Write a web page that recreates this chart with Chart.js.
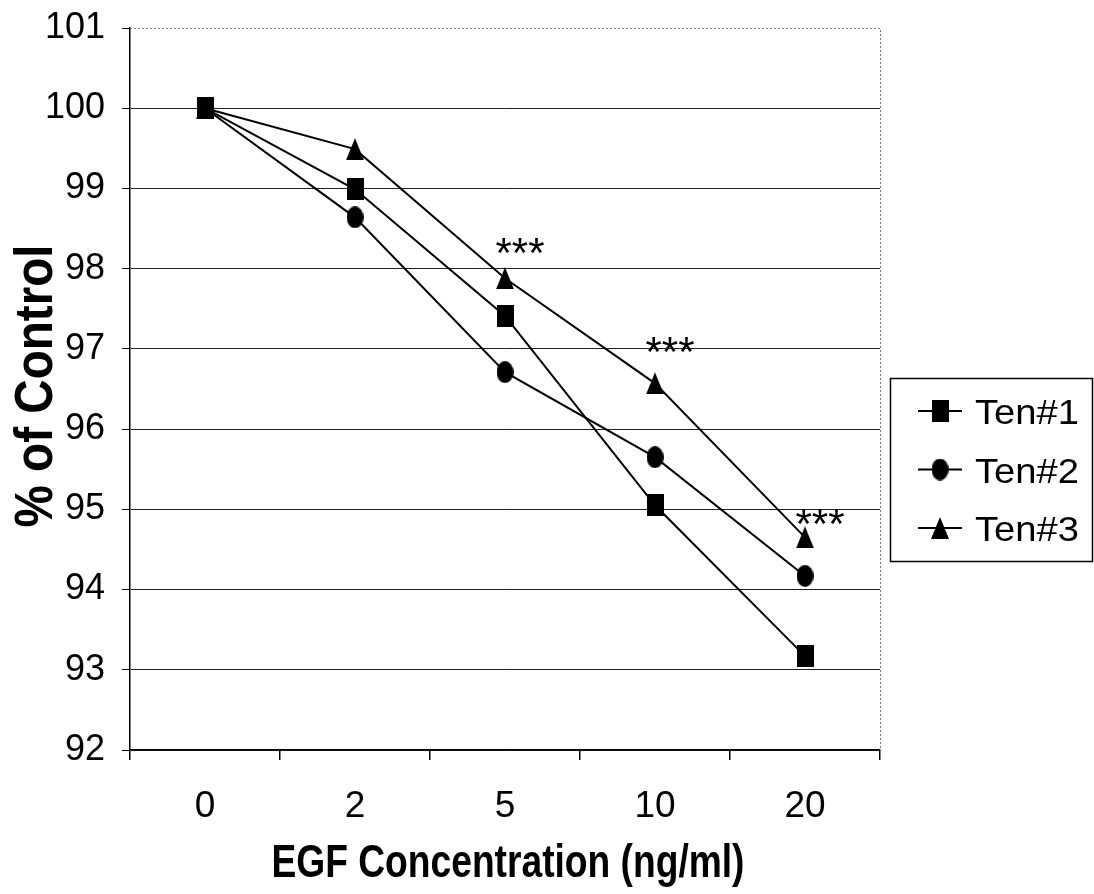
<!DOCTYPE html>
<html><head><meta charset="utf-8">
<script src="https://cdn.jsdelivr.net/npm/chart.js@4.4.1/dist/chart.umd.min.js"></script>
<style>html,body{margin:0;padding:0;background:#fff;}#wrap{width:1094px;height:894px;}</style>
</head><body><div id="wrap"><canvas id="c" width="1094" height="894"></canvas></div>
<script>
// ---- data ----
const categories = ['0', '2', '5', '10', '20'];
const seriesNames = ['Ten#1', 'Ten#2', 'Ten#3'];
const ten1 = [100, 98.99, 97.41, 95.05, 93.17];
const ten2 = [100, 98.64, 96.71, 95.65, 94.17];
const ten3 = [100, 99.49, 97.88, 96.57, 94.65];
const sigLabels = ['', '', '***', '***', '***'];
const sigLevels = [null, null, 98.32, 97.09, 94.94];
const yMin = 92, yMax = 101, yStep = 1;
const xTitle = 'EGF Concentration (ng/ml)';
const yTitle = '% of Control';

// ---- helpers ----
function fontAvailable(name) {
  const g = document.createElement('canvas').getContext('2d');
  const s = 'abcdefghijklmnopqrstuvwxyz0123456789';
  g.font = '40px monospace'; const w1 = g.measureText(s).width;
  g.font = '40px "' + name + '", monospace'; const w2 = g.measureText(s).width;
  return w1 !== w2;
}
const hasNarrow = fontAvailable('Liberation Sans Narrow');
const baseFont = '"Liberation Sans", Arial, sans-serif';
const yTickFont = hasNarrow ? {family: '"Liberation Sans Narrow", ' + baseFont, size: 42, lineHeight: 1} : {family: baseFont, size: 36, lineHeight: 1};

function mk(w, h, draw) {
  const c = document.createElement('canvas'); c.width = w; c.height = h;
  const g = c.getContext('2d'); g.fillStyle = '#000'; draw(g, w, h); return c;
}
const mSquare = mk(17, 22, (g, w, h) => g.fillRect(0, 0, w, h));
const mCircle = mk(17, 22, (g, w, h) => { g.beginPath(); g.ellipse(w / 2, h / 2, w / 2, h / 2, 0, 0, Math.PI * 2); g.fill(); });
const mTri = mk(18, 22, (g, w, h) => { g.beginPath(); g.moveTo(w / 2, 0); g.lineTo(w, h); g.lineTo(0, h); g.closePath(); g.fill(); });
const markers = [mSquare, mCircle, mTri];

function fitText(ctx, text, x, y, targetW, align) {
  const w = ctx.measureText(text).width;
  const s = targetW / w;
  ctx.save(); ctx.translate(x, y); ctx.scale(s, 1);
  ctx.textAlign = align || 'center';
  ctx.fillText(text, 0, 0);
  ctx.restore();
}

const decorPlugin = {
  id: 'decor',
  beforeDatasetsDraw(chart) {
    const {ctx, chartArea: a} = chart;
    ctx.save();
    ctx.strokeStyle = '#777'; ctx.lineWidth = 1; ctx.setLineDash([2, 2]);
    ctx.beginPath(); ctx.moveTo(a.left, a.top + 0.5); ctx.lineTo(a.right + 0.5, a.top + 0.5); ctx.lineTo(a.right + 0.5, a.bottom); ctx.stroke();
    ctx.restore();
  },
  afterDatasetsDraw(chart) {
    const {ctx} = chart;
    const xs = chart.scales.x, ys = chart.scales.y;
    const fs = 42;
    ctx.save();
    ctx.fillStyle = '#000';
    ctx.font = fs + 'px ' + baseFont;
    ctx.textAlign = 'center'; ctx.textBaseline = 'alphabetic';
    sigLabels.forEach((t, i) => {
      if (!t || sigLevels[i] == null) return;
      const x = xs.getPixelForValue(i) + 15;
      const y = ys.getPixelForValue(sigLevels[i]) + 0.57 * fs;
      ctx.fillText(t, x, y);
    });
    ctx.restore();
  },
  afterDraw(chart) {
    const {ctx, chartArea: a} = chart;
    ctx.save();
    ctx.fillStyle = '#000';
    // x title
    ctx.font = 'bold 46px ' + baseFont;
    ctx.textBaseline = 'alphabetic';
    fitText(ctx, xTitle, (a.left + a.right) / 2 + 3, 877, 473, 'center');
    // y title
    ctx.save();
    ctx.translate(52, 386); ctx.rotate(-Math.PI / 2);
    ctx.font = 'bold 54px ' + baseFont;
    fitText(ctx, yTitle, 0, 0, 283, 'center');
    ctx.restore();
    // legend
    ctx.strokeStyle = '#000'; ctx.lineWidth = 1.5; ctx.setLineDash([]);
    ctx.strokeRect(890.5, 378.5, 202, 183);
    const rows = [411, 469.5, 528];
    ctx.font = '35px ' + baseFont;
    chart.data.datasets.forEach((ds, i) => {
      const y = rows[i];
      ctx.lineWidth = 2;
      ctx.beginPath(); ctx.moveTo(918, y); ctx.lineTo(962, y); ctx.stroke();
      const m = markers[i];
      ctx.drawImage(m, 940 - m.width / 2, y - m.height / 2);
      ctx.textBaseline = 'alphabetic';
      fitText(ctx, ds.label, 975, y + 0.358 * 35 + 0.5, 104, 'left');
    });
    ctx.restore();
  }
};

const mkDs = (label, data, i) => ({
  label, data,
  borderColor: '#000', backgroundColor: '#000', borderWidth: 2,
  pointStyle: markers[i], pointRadius: 9, pointHoverRadius: 9,
  tension: 0, fill: false
});

new Chart(document.getElementById('c'), {
  type: 'line',
  data: {
    labels: categories,
    datasets: [mkDs(seriesNames[0], ten1, 0), mkDs(seriesNames[1], ten2, 1), mkDs(seriesNames[2], ten3, 2)]
  },
  options: {
    responsive: false, animation: false, devicePixelRatio: 1,
    layout: {autoPadding: false, padding: {top: 28, right: 214, left: 0, bottom: 0}},
    plugins: {legend: {display: false}, tooltip: {enabled: false}, title: {display: false}},
    scales: {
      x: {
        type: 'category', offset: true,
        grid: {display: true, drawOnChartArea: false, drawTicks: true, tickLength: 10, offset: true, color: '#000', lineWidth: 1.5},
        border: {display: true, color: '#000', width: 1.5},
        ticks: {color: '#000', font: {family: baseFont, size: 37}, padding: 25, maxRotation: 0, autoSkip: false},
        afterFit(s) { s.height = 894 - 750; s.paddingLeft = 0; s.paddingRight = 0; }
      },
      y: {
        type: 'linear', min: yMin, max: yMax,
        grid: {
          color: (c) => (c.tick && c.tick.value === yMax) ? 'rgba(0,0,0,0)' : '#222',
          tickColor: '#000', lineWidth: 1, tickLength: 8, drawTicks: true
        },
        border: {display: true, color: '#000', width: 1.5},
        ticks: {stepSize: yStep, color: '#000', font: yTickFont, padding: 17},
        afterFit(s) { s.width = 130; s.paddingTop = 0; s.paddingBottom = 0; }
      }
    }
  },
  plugins: [decorPlugin]
});
</script></body></html>
